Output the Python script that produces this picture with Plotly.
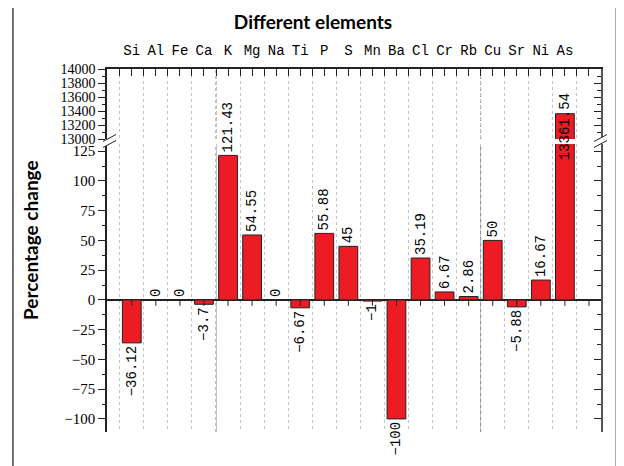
import plotly.graph_objects as go

# ---------------- data ----------------
elements = ["Si", "Al", "Fe", "Ca", "K", "Mg", "Na", "Ti", "P", "S",
            "Mn", "Ba", "Cl", "Cr", "Rb", "Cu", "Sr", "Ni", "As"]
pct_change = [-36.12, 0, 0, -3.7, 121.43, 54.55, 0, -6.67, 55.88, 45,
              -1, -100, 35.19, 6.67, 2.86, 50, -5.88, 16.67, 13361.54]
lower_ticks = [-100, -75, -50, -25, 0, 25, 50, 75, 100, 125]
upper_ticks = [13000, 13200, 13400, 13600, 13800, 14000]
lower_range = [-111, 131]
upper_range = [13000, 14000]

# ---------------- geometry helpers (reference pixel -> paper) ----------------
OFF = 8  # browser body margin
W, H = 624 - OFF, 466 - OFF
L, R, T, B = 107, 600.7, 69, 432   # reference-page pixels


def px(xp):
    return (xp - L) / (R - L)


def py(yp):
    return (B - yp) / (B - T)


n = len(elements)
xs = list(range(n))
big = max(pct_change)
labels = []
for v in pct_change:
    if v == big:
        labels.append("")
    else:
        labels.append(("%g" % v).replace("-", "\u2212"))

RED = "#ED1C24"
EDGE = "#222222"
SERIF = "Liberation Serif"
MONO = "Liberation Mono"

fig = go.Figure()

# lower segment bars
fig.add_trace(go.Bar(
    x=xs, y=pct_change, xaxis="x", yaxis="y", width=0.78,
    marker=dict(color=RED, line=dict(color=EDGE, width=1)),
    text=labels, textposition="outside", textangle=-90,
    textfont=dict(family=MONO, size=14, color="black"),
    constraintext="none", cliponaxis=False, showlegend=False,
))
# upper segment bars (only the big one reaches)
fig.add_trace(go.Bar(
    x=xs, y=[v if v > upper_range[0] else None for v in pct_change],
    xaxis="x2", yaxis="y2", width=0.78,
    marker=dict(color=RED, line=dict(color=EDGE, width=1)),
    showlegend=False,
))
# ticks on the zero line
tx, ty = [], []
for i in range(n + 1):
    tx += [i, i, None]
    ty += [0, -5, None]
fig.add_trace(go.Scatter(x=tx, y=ty, mode="lines", xaxis="x", yaxis="y",
                         line=dict(color="#222", width=1), hoverinfo="skip",
                         showlegend=False))

xr = [-1.03, n + 0.5]
lower_dom = [0, py(144)]
upper_dom = [py(139), 1]

grid_minor = dict(tick0=0.5, dtick=1, showgrid=True, gridcolor="#c4c4c4",
                  griddash="dot", gridwidth=1)

fig.update_layout(
    width=W, height=H,
    margin=dict(l=L - OFF, r=624 - R, t=T - OFF, b=466 - B),
    paper_bgcolor="white", plot_bgcolor="white",
    bargap=0.2,
    xaxis=dict(range=xr, domain=[0, 1], anchor="y", showline=False,
               showticklabels=False, ticks="", showgrid=False, zeroline=False,
               minor=dict(grid_minor, ticks="")),
    xaxis2=dict(range=xr, domain=[0, 1], anchor="y2", side="top", matches="x",
                showline=True, linecolor="#222", linewidth=1.5,
                tickmode="array", tickvals=list(range(n + 1)),
                ticktext=elements + [""],
                ticks="inside", ticklen=7, tickcolor="#222", tickwidth=1,
                tickfont=dict(family=MONO, size=14, color="black"),
                ticklabelstandoff=7,
                showgrid=False, zeroline=False,
                minor=dict(grid_minor, ticks="inside", ticklen=7,
                           tickcolor="#222", tickwidth=1)),
    yaxis=dict(range=lower_range, domain=lower_dom, anchor="x",
               showline=True, linecolor="#222", linewidth=1.5,
               tickmode="array", tickvals=lower_ticks,
               ticks="outside", ticklen=7, tickcolor="#222",
               tickfont=dict(family=SERIF, size=15, color="black"),
               showgrid=False, zeroline=True, zerolinecolor="#222",
               zerolinewidth=1.5,
               minor=dict(tick0=0, dtick=12.5, ticks="outside", ticklen=3,
                          tickcolor="#222")),
    yaxis2=dict(range=upper_range, domain=upper_dom, anchor="x2",
                showline=True, linecolor="#222", linewidth=1.5,
                tickmode="array", tickvals=upper_ticks,
                ticktext=[str(t) for t in upper_ticks],
                ticks="outside", ticklen=7, tickcolor="#222",
                tickfont=dict(family=SERIF, size=14, color="black"),
                showgrid=False, zeroline=False,
                minor=dict(tick0=13000, dtick=100, ticks="outside", ticklen=3,
                           tickcolor="#222")),
    yaxis3=dict(range=lower_range, overlaying="y", side="right", anchor="x",
                showline=True, linecolor="#555", linewidth=2,
                tickmode="array", tickvals=lower_ticks, showticklabels=False,
                ticks="inside", ticklen=7, tickcolor="#222",
                showgrid=False, zeroline=False,
                minor=dict(tick0=0, dtick=12.5, ticks="inside", ticklen=4,
                           tickcolor="#222")),
    yaxis4=dict(range=upper_range, overlaying="y2", side="right", anchor="x2",
                showline=True, linecolor="#555", linewidth=2,
                tickmode="array", tickvals=upper_ticks, showticklabels=False,
                ticks="inside", ticklen=7, tickcolor="#222",
                showgrid=False, zeroline=False,
                minor=dict(tick0=13000, dtick=100, ticks="inside", ticklen=4,
                           tickcolor="#222")),
    title=dict(text="<b>Different elements</b>", x=(313 - OFF) / W,
               xref="container", y=1 - (22 - OFF) / H, yref="container",
               yanchor="middle", xanchor="center",
               font=dict(family="Lato", size=19, color="black")),
)

# dummy traces so overlay axes render
fig.add_trace(go.Scatter(x=[None], y=[None], xaxis="x", yaxis="y3",
                         showlegend=False))
fig.add_trace(go.Scatter(x=[None], y=[None], xaxis="x2", yaxis="y4",
                         showlegend=False))

annotations = [
    dict(text="<b>Percentage change</b>", xref="paper", yref="paper",
         x=px(30), y=py(240), textangle=-90, showarrow=False,
         font=dict(family="Lato", size=19, color="black"),
         xanchor="center", yanchor="middle"),
    dict(text="%.2f" % big, xref="x", yref="y", x=pct_change.index(big),
         y=116, textangle=-90, showarrow=False, xanchor="center",
         yanchor="bottom", font=dict(family=MONO, size=14, color="black")),
]
fig.update_layout(annotations=annotations)

shapes = []
# darker vertical grid lines
for gx in [3.5, 14.5]:
    for dom in (lower_dom, upper_dom):
        shapes.append(dict(type="line", xref="x", yref="paper", x0=gx, x1=gx,
                           y0=dom[0], y1=dom[1],
                           line=dict(color="#808080", width=1, dash="dot"),
                           layer="below"))
# outer frame
shapes.append(dict(type="rect", xref="paper", yref="paper",
                   x0=px(13), x1=px(616), y0=py(480), y1=py(6.7),
                   line=dict(color="#444", width=1.5)))
# break marks
for cx in (L + 2, R - 1):
    shapes.append(dict(type="path", xref="paper", yref="paper",
                       path="M %f,%f L %f,%f L %f,%f L %f,%f Z" % (
                           px(cx - 6), py(141.5), px(cx + 7), py(134.5),
                           px(cx + 7), py(140.5), px(cx - 6), py(147.5)),
                       fillcolor="white", line=dict(width=0)))
    for dy in (0, 6):
        shapes.append(dict(type="line", xref="paper", yref="paper",
                           x0=px(cx - 6), y0=py(141.5 + dy),
                           x1=px(cx + 7), y1=py(134.5 + dy),
                           line=dict(color="#222", width=1)))
fig.update_layout(shapes=shapes)

fig.write_html("out.html")
